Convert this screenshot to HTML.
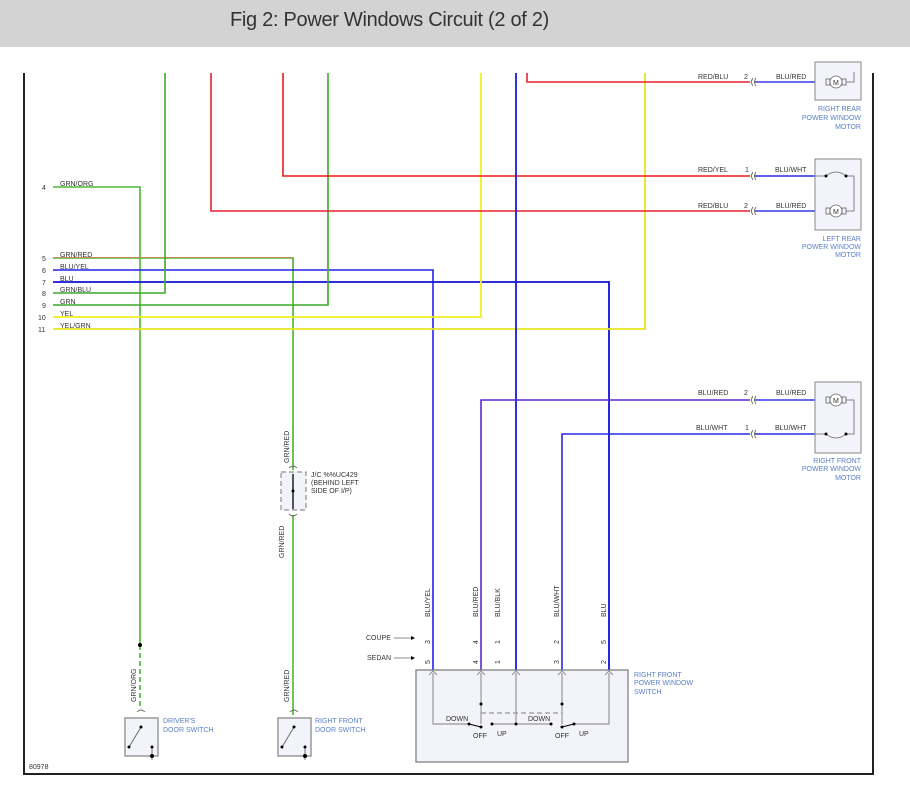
<!DOCTYPE html>
<html><head><style>
body{margin:0;background:#fff;width:910px;height:796px;overflow:hidden;font-family:"Liberation Sans",sans-serif}
.hdr{position:absolute;left:0;top:0;width:910px;height:47px;background:#d3d3d3}
.hdr span{position:absolute;left:230px;top:9px;font-size:20px;color:#333;letter-spacing:-0.3px}
svg{position:absolute;left:0;top:0}
text{font-family:"Liberation Sans",sans-serif;font-size:7px;fill:#333}
.b{fill:#5a7fc8}
</style></head><body>
<div class="hdr"><span>Fig 2: Power Windows Circuit (2 of 2)</span></div>
<svg width="910" height="796" viewBox="0 0 910 796">
<polyline points="24,73 24,774 873,774 873,73" fill="none" stroke="#222" stroke-width="2"/>
<g fill="none" stroke-width="1.6">
<polyline points="53,187 140,187 140,643" stroke="#4bb832"/>
<line x1="140" y1="645" x2="140" y2="706" stroke="#4bb832" stroke-dasharray="5,3"/>
<polyline points="53,258 293,258 293,470" stroke="#4bb832"/>
<polyline points="53,257.5 293.5,257.5 293.5,470" stroke="#e07a5a" stroke-width="0.7"/>
<line x1="293" y1="515" x2="293" y2="715" stroke="#4bb832"/>
<polyline points="53,270 433,270 433,670" stroke="#2222ee"/>
<polyline points="53,282 609,282 609,670" stroke="#1010dd" stroke-width="1.8"/>
<polyline points="53,293 165,293 165,73" stroke="#3aa82a"/>
<polyline points="53,305 328,305 328,73" stroke="#3aa82a"/>
<polyline points="53,317 481,317 481,73" stroke="#f0f020" stroke-width="1.8"/>
<polyline points="53,329 645,329 645,73" stroke="#e6e620" stroke-width="1.8"/>
<polyline points="211,73 211,211 750,211" stroke="#e82030"/>
<polyline points="283,73 283,176 750,176" stroke="#ee1a1a"/>
<polyline points="527,73 527,82 750,82" stroke="#e82030"/>
<line x1="516" y1="73" x2="516" y2="670" stroke="#1a1ae0" stroke-width="1.8"/>
<polyline points="481,670 481,400 750,400" stroke="#5a2ad0"/>
<polyline points="562,670 562,434 750,434" stroke="#2a2ae8"/>
<line x1="755" y1="82" x2="815" y2="82" stroke="#3a3ae8"/>
<line x1="755" y1="176" x2="815" y2="176" stroke="#2a2ae8"/>
<line x1="755" y1="211" x2="815" y2="211" stroke="#3a3ae8"/>
<line x1="755" y1="400" x2="815" y2="400" stroke="#3a3ae8"/>
<line x1="755" y1="434" x2="815" y2="434" stroke="#2a2ae8"/>
</g>
<g fill="none" stroke="#555" stroke-width="0.8">
<path d="M753,78 q-3,4 0,8 M756,78 q-3,4 0,8"/>
<path d="M753,172 q-3,4 0,8 M756,172 q-3,4 0,8"/>
<path d="M753,207 q-3,4 0,8 M756,207 q-3,4 0,8"/>
<path d="M753,396 q-3,4 0,8 M756,396 q-3,4 0,8"/>
<path d="M753,430 q-3,4 0,8 M756,430 q-3,4 0,8"/>
</g>
<g fill="#f3f3fb" stroke="#888" stroke-width="1">
<rect x="815" y="62" width="46" height="38"/>
<rect x="815" y="159" width="46" height="71"/>
<rect x="815" y="382" width="46" height="71"/>
</g>
<g fill="none" stroke="#666" stroke-width="0.8">
<circle cx="836" cy="82" r="6" fill="#fff"/><rect x="826" y="79" width="4" height="6"/><rect x="842" y="79" width="4" height="6"/><polyline points="846,82 854,82 854,72"/>
<circle cx="836" cy="211" r="6" fill="#fff"/><rect x="826" y="208" width="4" height="6"/><rect x="842" y="208" width="4" height="6"/><polyline points="846,211 854,211 854,176 846,176"/>
<path d="M826,176 q10,-8 20,0"/><line x1="815" y1="176" x2="826" y2="176"/>
<circle cx="836" cy="400" r="6" fill="#fff"/><rect x="826" y="397" width="4" height="6"/><rect x="842" y="397" width="4" height="6"/><polyline points="846,400 854,400 854,434 846,434"/>
<path d="M826,434 q10,8 20,0"/><line x1="815" y1="434" x2="826" y2="434"/>
</g>
<g fill="#000"><circle cx="826" cy="176" r="1.5"/><circle cx="846" cy="176" r="1.5"/><circle cx="826" cy="434" r="1.5"/><circle cx="846" cy="434" r="1.5"/></g>
<g font-size="7"><text x="833" y="85" font-size="8">M</text><text x="833" y="214" font-size="8">M</text><text x="833" y="403" font-size="8">M</text></g>
<text x="698" y="79">RED/BLU</text><text x="744" y="79">2</text><text x="776" y="79">BLU/RED</text>
<text x="698" y="172">RED/YEL</text><text x="745" y="172">1</text><text x="775" y="172">BLU/WHT</text>
<text x="698" y="208">RED/BLU</text><text x="744" y="208">2</text><text x="776" y="208">BLU/RED</text>
<text x="698" y="395">BLU/RED</text><text x="744" y="395">2</text><text x="776" y="395">BLU/RED</text>
<text x="696" y="430">BLU/WHT</text><text x="745" y="430">1</text><text x="775" y="430">BLU/WHT</text>
<g class="b" text-anchor="end">
<text x="861" y="111" class="b">RIGHT REAR</text><text x="861" y="120" class="b">POWER WINDOW</text><text x="861" y="129" class="b">MOTOR</text>
<text x="861" y="241" class="b">LEFT REAR</text><text x="861" y="249" class="b">POWER WINDOW</text><text x="861" y="257" class="b">MOTOR</text>
<text x="861" y="463" class="b">RIGHT FRONT</text><text x="861" y="471" class="b">POWER WINDOW</text><text x="861" y="480" class="b">MOTOR</text>
</g>
<g><text x="42" y="190">4</text><text x="60" y="186">GRN/ORG</text>
<text x="42" y="261">5</text><text x="60" y="257">GRN/RED</text>
<text x="42" y="273">6</text><text x="60" y="269">BLU/YEL</text>
<text x="42" y="285">7</text><text x="60" y="281">BLU</text>
<text x="42" y="296">8</text><text x="60" y="292">GRN/BLU</text>
<text x="42" y="308">9</text><text x="60" y="304">GRN</text>
<text x="38" y="320">10</text><text x="60" y="316">YEL</text>
<text x="38" y="332">11</text><text x="60" y="328">YEL/GRN</text></g>
<rect x="281" y="472" width="25" height="38" fill="#f3f3fb" stroke="#777" stroke-dasharray="5,3"/>
<line x1="293" y1="474" x2="293" y2="509" stroke="#000" stroke-width="1.3"/><circle cx="293" cy="491" r="1.5"/>
<path d="M289,468 q4,-4 8,0 M289,514 q4,4 8,0" fill="none" stroke="#555" stroke-width="0.8"/>
<text x="311" y="477">J/C %%UC429</text><text x="311" y="485">(BEHIND LEFT</text><text x="311" y="493">SIDE OF I/P)</text>
<g transform="rotate(-90)">
<text x="-463" y="289">GRN/RED</text><text x="-558" y="284">GRN/RED</text><text x="-702" y="289">GRN/RED</text><text x="-702" y="136">GRN/ORG</text>
<text x="-617" y="430">BLU/YEL</text><text x="-617" y="478">BLU/RED</text><text x="-617" y="500">BLU/BLK</text><text x="-617" y="559">BLU/WHT</text><text x="-617" y="606">BLU</text>
<text x="-644" y="430">3</text><text x="-644" y="478">4</text><text x="-644" y="500">1</text><text x="-644" y="559">2</text><text x="-644" y="606">5</text>
<text x="-664" y="430">5</text><text x="-664" y="478">4</text><text x="-664" y="500">1</text><text x="-664" y="559">3</text><text x="-664" y="606">2</text>
</g>
<circle cx="140" cy="645" r="2" fill="#000"/>
<g fill="#f3f3fb" stroke="#999" stroke-width="1.5"><rect x="125" y="718" width="33" height="38"/><rect x="278" y="718" width="33" height="38"/></g>
<g stroke="#555" stroke-width="0.8" fill="none">
<path d="M137,712 q4,-4 8,0 M290,712 q4,-4 8,0"/>
<polyline points="141,727 129,747"/><polyline points="294,727 282,747"/>
<polyline points="152,747 152,756 152,760 M148,760 h8 M149,762 h6 M151,764 h2"/>
<polyline points="305,747 305,756 305,760 M301,760 h8 M302,762 h6 M304,764 h2"/>
</g>
<g fill="#000"><circle cx="141" cy="727" r="1.5"/><circle cx="129" cy="747" r="1.5"/><circle cx="152" cy="747" r="1.5"/><circle cx="152" cy="756" r="2"/>
<circle cx="294" cy="727" r="1.5"/><circle cx="282" cy="747" r="1.5"/><circle cx="305" cy="747" r="1.5"/><circle cx="305" cy="756" r="2"/></g>
<text x="163" y="723" class="b">DRIVER'S</text><text x="163" y="732" class="b">DOOR SWITCH</text>
<text x="315" y="723" class="b">RIGHT FRONT</text><text x="315" y="732" class="b">DOOR SWITCH</text>
<text x="29" y="769" fill="#223">80978</text>
<rect x="416" y="670" width="212" height="92" fill="#f3f3fb" stroke="#777" stroke-width="1.2"/>
<g stroke="#999" stroke-width="1.2" fill="none">
<polyline points="433,673 433,724 469,724"/>
<polyline points="481,673 481,724"/>
<polyline points="516,673 516,724 492,724"/>
<polyline points="516,724 551,724"/>
<polyline points="562,673 562,724"/>
<polyline points="609,673 609,724 574,724"/>
<line x1="481" y1="713" x2="562" y2="713" stroke-dasharray="5,3"/>
<path d="M429,675 l4,-4 l4,4 M477,675 l4,-4 l4,4 M512,675 l4,-4 l4,4 M558,675 l4,-4 l4,4 M605,675 l4,-4 l4,4"/>
</g>
<g stroke="#000" stroke-width="1" fill="none"><polyline points="469,724 481,727"/><polyline points="562,727 574,724"/></g>
<g fill="#000"><circle cx="481" cy="704" r="1.5"/><circle cx="562" cy="704" r="1.5"/><circle cx="469" cy="724" r="1.5"/><circle cx="481" cy="727" r="1.5"/><circle cx="492" cy="724" r="1.5"/><circle cx="516" cy="724" r="1.5"/><circle cx="551" cy="724" r="1.5"/><circle cx="562" cy="727" r="1.5"/><circle cx="574" cy="724" r="1.5"/></g>
<text x="446" y="721">DOWN</text><text x="528" y="721">DOWN</text>
<text x="473" y="738">OFF</text><text x="497" y="736">UP</text><text x="555" y="738">OFF</text><text x="579" y="736">UP</text>
<text x="634" y="677" class="b">RIGHT FRONT</text><text x="634" y="685" class="b">POWER WINDOW</text><text x="634" y="694" class="b">SWITCH</text>
<text x="366" y="640">COUPE</text><text x="367" y="660">SEDAN</text>
<g stroke="#666" stroke-width="0.8"><line x1="394" y1="638" x2="413" y2="638"/><line x1="394" y1="658" x2="413" y2="658"/></g>
<path d="M411,636 l4,2 l-4,2z M411,656 l4,2 l-4,2z" fill="#000"/>
</svg>
</body></html>
